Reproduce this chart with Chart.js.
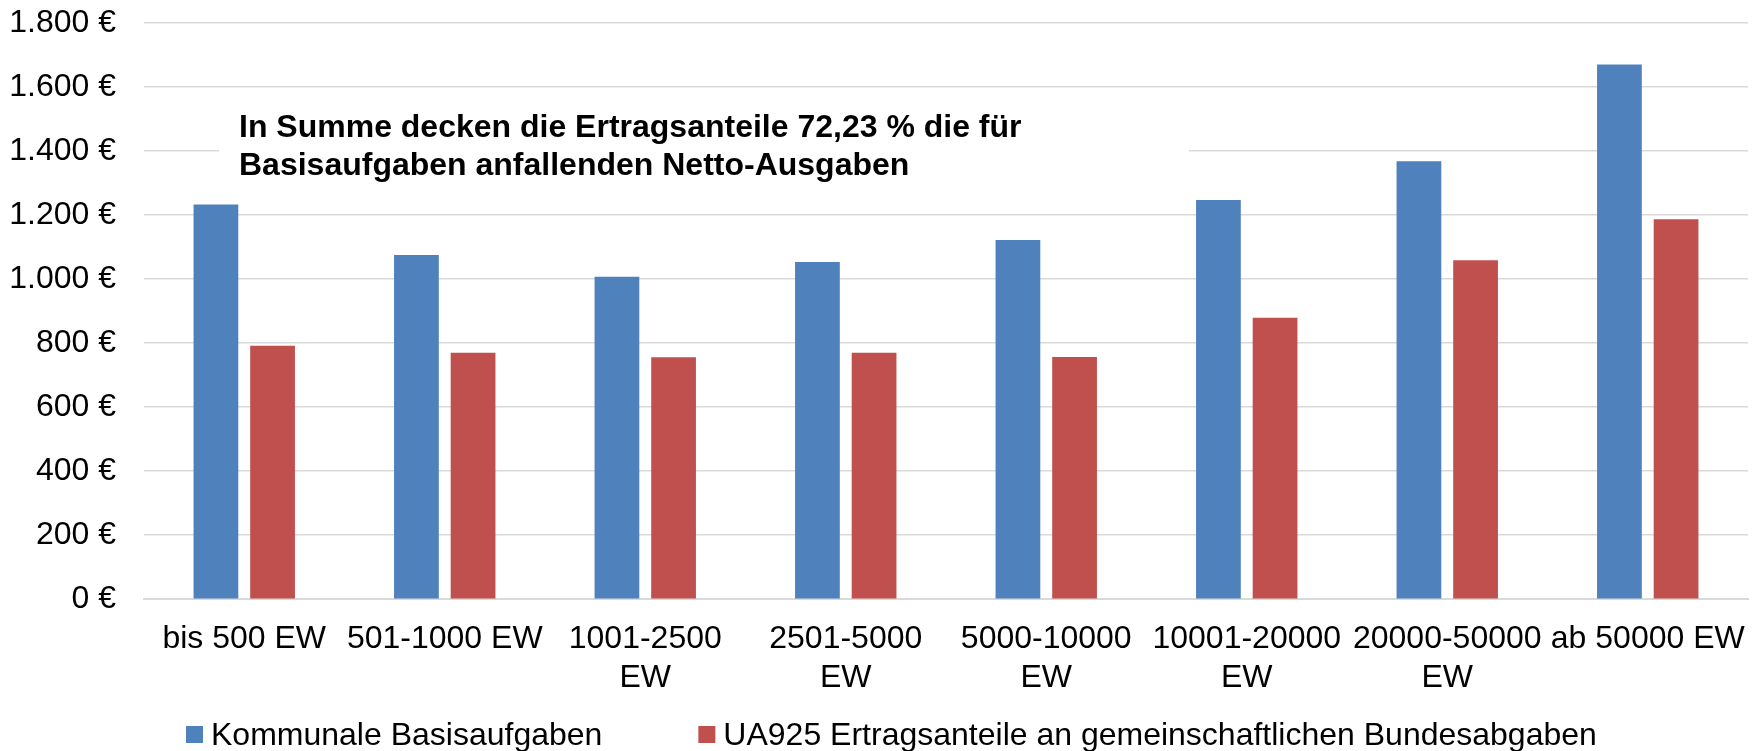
<!DOCTYPE html>
<html>
<head>
<meta charset="utf-8">
<script src="https://cdn.jsdelivr.net/npm/chart.js@4"></script>
<style>
  html, body { margin: 0; padding: 0; background: #fff; }
  canvas { display: block; }
</style>
</head>
<body>
<canvas id="chart" width="1758" height="751"></canvas>
<script>
var categories = [
  "bis 500 EW",
  "501-1000 EW",
  ["1001-2500", "EW"],
  ["2501-5000", "EW"],
  ["5000-10000", "EW"],
  ["10001-20000", "EW"],
  ["20000-50000", "EW"],
  "ab 50000 EW"
];
var basisaufgaben = [1233, 1075, 1007, 1053, 1122, 1247, 1368, 1670];
var ertragsanteile = [792, 770, 756, 770, 757, 879, 1059, 1187];
var seriesNames = [
  "Kommunale Basisaufgaben",
  "UA925 Ertragsanteile an gemeinschaftlichen Bundesabgaben"
];
var noteLines = [
  "In Summe decken die Ertragsanteile 72,23 % die für",
  "Basisaufgaben anfallenden Netto-Ausgaben"
];

const FONT = '"Liberation Sans", Arial, sans-serif';

function euro(v) {
  return String(v).replace(/\B(?=(\d{3})+(?!\d))/g, ".") + " €";
}

// text box in the upper left, covers the gridline behind it
const notePlugin = {
  id: "note",
  beforeDatasetsDraw(chart) {
    const ctx = chart.ctx;
    ctx.save();
    ctx.fillStyle = "#fff";
    ctx.fillRect(219, 96, 970, 92);
    ctx.restore();
  },
  afterDatasetsDraw(chart) {
    const ctx = chart.ctx;
    ctx.save();
    ctx.fillStyle = "#000";
    ctx.font = "bold 32px " + FONT;
    ctx.textBaseline = "alphabetic";
    ctx.textAlign = "left";
    ctx.fillText(noteLines[0], 239, 137);
    ctx.fillText(noteLines[1], 239, 175);
    ctx.restore();
  }
};

// legend drawn by hand so the spacing matches
const legendPlugin = {
  id: "bottomLegend",
  afterDraw(chart) {
    const ctx = chart.ctx;
    ctx.save();
    ctx.font = "32px " + FONT;
    ctx.textBaseline = "alphabetic";
    let x = 186;
    chart.data.datasets.forEach((ds) => {
      ctx.fillStyle = ds.backgroundColor;
      ctx.fillRect(x, 726, 17, 17);
      ctx.fillStyle = "#000";
      ctx.fillText(ds.label, x + 25, 745);
      x += 25 + ctx.measureText(ds.label).width + 96;
    });
    ctx.restore();
  }
};

const data = {
  labels: categories,
  datasets: [
    {
      label: seriesNames[0],
      data: basisaufgaben,
      backgroundColor: "#4F81BD",
      categoryPercentage: 0.565,
      barPercentage: 0.79,
    },
    {
      label: seriesNames[1],
      data: ertragsanteile,
      backgroundColor: "#C0504D",
      categoryPercentage: 0.565,
      barPercentage: 0.79,
    },
  ],
};

const config = {
  type: "bar",
  data: data,
  options: {
    responsive: false,
    animation: false,
    layout: {
      padding: { left: 0, right: 10, top: 0, bottom: 33 },
    },
    scales: {
      x: {
        grid: { display: false, drawTicks: false },
        border: { display: true, color: "#d9d9d9", width: 2 },
        ticks: {
          color: "#000",
          font: { family: FONT, size: 32 },
          padding: 21,
          maxRotation: 0,
          autoSkip: false,
        },
        afterFit: (scale) => {
          scale.paddingLeft = 0;
          scale.paddingRight = 0;
        },
      },
      y: {
        min: 0,
        max: 1800,
        grid: { color: "#d9d9d9", lineWidth: 1.5, drawTicks: false },
        border: { display: false },
        ticks: {
          stepSize: 200,
          color: "#000",
          font: { family: FONT, size: 32 },
          padding: 28,
          callback: (v) => euro(v),
        },
        afterFit: (scale) => {
          scale.width = 144;
          scale.paddingTop = 23;
          scale.paddingBottom = 0;
        },
      },
    },
    plugins: {
      legend: { display: false },
      tooltip: { enabled: false },
    },
  },
  plugins: [notePlugin, legendPlugin],
};

const chart = new Chart(document.getElementById("chart"), config);
</script>
</body>
</html>
